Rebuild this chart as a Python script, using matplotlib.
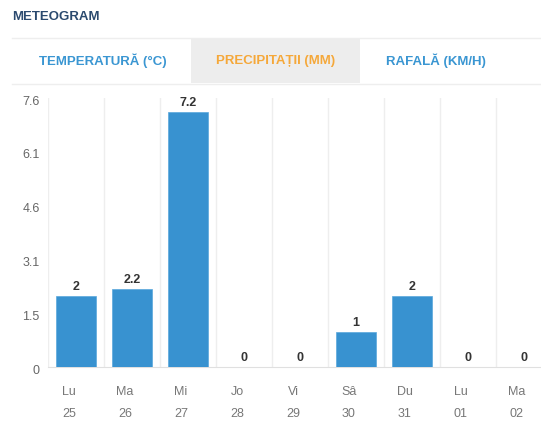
import matplotlib
matplotlib.use("Agg")
from matplotlib import pyplot as plt
from matplotlib.patches import Rectangle
import matplotlib.transforms as mtransforms

days = ["Lu", "Ma", "Mi", "Jo", "Vi", "Sâ", "Du", "Lu", "Ma"]
dates = ["25", "26", "27", "28", "29", "30", "31", "01", "02"]
precip = [2, 2.2, 7.2, 0, 0, 1, 2, 0, 0]
value_labels = ["2", "2.2", "7.2", "0", "0", "1", "2", "0", "0"]
ytick_pos = [0, 1.52, 3.04, 4.56, 6.08, 7.6]
ytick_labels = ["0", "1.5", "3.1", "4.6", "6.1", "7.6"]
tabs = ["TEMPERATURĂ (°C)", "PRECIPITAȚII (MM)", "RAFALĂ (KM/H)"]

plt.rcParams['font.family'] = ['Liberation Sans', 'DejaVu Sans']

W, H = 541, 425
fig = plt.figure(figsize=(W / 100, H / 100), dpi=100)

# header
fig.text(12 / W, 1 - 17 / H, "METEOGRAM", fontsize=9.5, fontweight='bold',
         color='#2b4a6f', va='center', ha='left')

# tab strip
fig.add_artist(plt.Line2D([12 / W, 1], [1 - 38 / H] * 2, color='#eeeeee', lw=1))
fig.add_artist(plt.Line2D([12 / W, 1], [1 - 84 / H] * 2, color='#eeeeee', lw=1))
fig.add_artist(Rectangle((191 / W, 1 - 83 / H), (360 - 191) / W, 45 / H,
                         transform=fig.transFigure, color='#ededed', lw=0))
tab_x = [103, 276, 436]
tab_col = ['#3a96d2', '#f5a83a', '#3a96d2']
for t, x, c in zip(tabs, tab_x, tab_col):
    fig.text(x / W, 1 - 61 / H, t, fontsize=9.5, fontweight='bold', color=c,
             ha='center', va='center')

# chart
left, right, top, bottom = 48, 552, 98, 367
ax = fig.add_axes([left / W, 1 - bottom / H, (right - left) / W, (bottom - top) / H])
x = list(range(len(precip)))
ax.bar(x, precip, width=0.73, color='#3892d0', edgecolor='#5aa8dc', lw=0.5, zorder=3)
for xi, v, lab in zip(x, precip, value_labels):
    ax.annotate(lab, (xi, v), xytext=(0, 2), textcoords='offset points',
                ha='center', va='bottom', fontsize=9, fontweight='bold', color='#333333')

ax.set_xlim(-0.5, len(precip) - 0.5)
ax.set_ylim(0, 7.6)
for b in range(1, len(precip)):
    ax.axvline(b - 0.5, color='#eeeeee', lw=1, zorder=1)
ax.axvline(-0.5, color='#eeeeee', lw=1, zorder=1)
for s in ['top', 'right', 'left']:
    ax.spines[s].set_visible(False)
ax.spines['bottom'].set_color('#e0e0e0')

ax.set_yticks(ytick_pos)
ax.set_yticklabels(ytick_labels)
ax.tick_params(axis='y', length=0, pad=6, labelsize=9, labelcolor='#666666')
ax.set_xticks(x)
ax.set_xticklabels([d + "\n" + n for d, n in zip(days, dates)], linespacing=2.1)
ax.tick_params(axis='x', length=0, pad=14, labelsize=9, labelcolor='#777777')
shift = mtransforms.ScaledTranslation(-7 / 100, 0, fig.dpi_scale_trans)
for lab in ax.get_xticklabels():
    lab.set_transform(lab.get_transform() + shift)
for lab in ax.get_yticklabels():
    dy = -3 if lab.get_text() == "0" else -2
    lab.set_transform(lab.get_transform() +
                      mtransforms.ScaledTranslation(0, dy / 100, fig.dpi_scale_trans))

fig.savefig("out.png", dpi=100)
